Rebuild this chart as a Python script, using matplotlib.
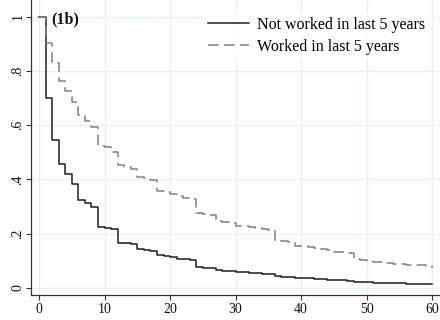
import numpy as np
import matplotlib
matplotlib.use("Agg")
import matplotlib.pyplot as plt

# survival estimates, one per month 0..60
months = list(range(61))
not_worked = [1.000, .700, .545, .455, .419, .382, .324, .314, .297, .224,
              .221, .219, .167, .164, .161, .143, .139, .136, .121, .118,
              .115, .108, .105, .103, .076, .074, .072, .065, .063, .061,
              .058, .057, .055, .054, .052, .051, .044, .042, .041, .037,
              .036, .035, .033, .032, .031, .029, .028, .027, .023, .022,
              .021, .020, .019, .019, .018, .017, .016, .016, .015, .015,
              .014]
worked = [1.000, .903, .829, .762, .727, .686, .637, .614, .592, .523,
          .518, .500, .453, .445, .438, .410, .404, .399, .358, .353,
          .347, .338, .333, .328, .277, .272, .267, .248, .243, .238,
          .230, .227, .224, .221, .217, .213, .176, .172, .168, .156,
          .153, .150, .147, .143, .140, .134, .131, .128, .107, .104,
          .101, .097, .095, .092, .088, .087, .086, .085, .084, .082,
          .074]

series_labels = ["Not worked in last 5 years", "Worked in last 5 years"]
xticks = [0, 10, 20, 30, 40, 50, 60]
yticks = [0, .2, .4, .6, .8, 1]
ytick_labels = ["0", ".2", ".4", ".6", ".8", "1"]
panel = "(1b)"

plt.rcParams['font.family'] = ['Liberation Serif', 'DejaVu Serif']

fig = plt.figure(figsize=(4.4, 3.2), dpi=100)
ax = fig.add_axes([31.3/440, 25/320, 1 - 31.3/440, 295/320])

ax.step(months, not_worked, where='post', color='#1e1e1e', lw=1.1,
        label=series_labels[0])
ax.step(months, worked, where='post', color='#808080', lw=1.1,
        dashes=(7, 3.5), label=series_labels[1])

ax.set_xlim(-1.18, 61.2)
ax.set_ylim(-0.026, 1.061)
ax.set_xticks(xticks)
ax.set_yticks(yticks)
ax.set_yticklabels(ytick_labels, rotation=90, va='center')
ax.tick_params(axis='both', labelsize=10, length=3.5, width=0.8,
               color='#333333', labelcolor='#111111')
ax.tick_params(axis='y', pad=1.5)
ax.tick_params(axis='x', pad=2)

ax.grid(True, color='#e6eff1', lw=0.9)
ax.set_axisbelow(True)
for side in ['top', 'right']:
    ax.spines[side].set_visible(False)
for side in ['left', 'bottom']:
    ax.spines[side].set_color('#333333')
    ax.spines[side].set_linewidth(0.9)

ax.text(1.85, 0.99, panel, fontsize=11.5, fontweight='bold', va='center',
        ha='left', color='#111111')

leg = ax.legend(loc='upper right', bbox_to_anchor=(430/440, 308/320),
                bbox_transform=fig.transFigure, fontsize=11.5,
                frameon=True, fancybox=False, handlelength=2.6,
                handletextpad=0.5, labelspacing=0.38, borderpad=0.3,
                borderaxespad=0)
leg.get_frame().set_facecolor('white')
leg.get_frame().set_edgecolor('none')

fig.savefig("out.png", dpi=100)
